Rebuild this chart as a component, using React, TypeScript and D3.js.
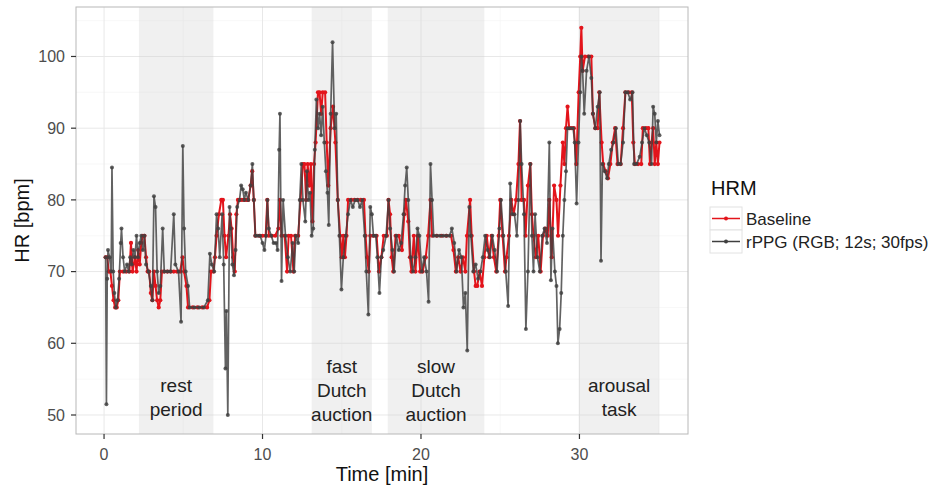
import { useEffect, useRef } from "react";
import * as d3 from "d3";

// Heart rate over time: HRM baseline (red) vs rPPG estimate (grey)
const baseline: [number, number][] = [
  [0.10, 72], [0.20, 72], [0.30, 70], [0.40, 70], [0.50, 68], [0.60, 66], [0.70, 65], [0.80, 65],
  [0.90, 66], [1.00, 70], [1.20, 70], [1.40, 70], [1.60, 70], [1.70, 74], [1.80, 70], [1.95, 72],
  [2.05, 70], [2.15, 73], [2.25, 71], [2.35, 74], [2.45, 75], [2.55, 75], [2.65, 72], [2.75, 70],
  [2.85, 70], [2.95, 67], [3.05, 66], [3.15, 70], [3.25, 68], [3.35, 66], [3.45, 65], [3.55, 66],
  [3.65, 70], [3.80, 70], [4.00, 70], [4.20, 70], [4.40, 70], [4.60, 70], [4.80, 70], [4.95, 72],
  [5.05, 70], [5.20, 68], [5.30, 65], [5.60, 65], [5.90, 65], [6.20, 65], [6.50, 65], [6.65, 66],
  [6.75, 70], [6.90, 70], [7.00, 72], [7.10, 75], [7.25, 78], [7.40, 80], [7.50, 80], [7.60, 75],
  [7.70, 72], [7.85, 75], [7.95, 78], [8.05, 76], [8.15, 72], [8.25, 70], [8.35, 78], [8.45, 80],
  [8.55, 80], [8.70, 80], [8.85, 80], [9.00, 80], [9.10, 80], [9.25, 82], [9.35, 84], [9.45, 80],
  [9.55, 75], [9.80, 75], [10.00, 75], [10.20, 75], [10.30, 80], [10.40, 75], [10.60, 75], [10.80, 75],
  [11.00, 76], [11.10, 80], [11.20, 75], [11.40, 75], [11.55, 70], [11.65, 75], [11.80, 75], [11.95, 70],
  [12.05, 75], [12.25, 75], [12.40, 80], [12.55, 85], [12.65, 85], [12.75, 80], [12.85, 85], [12.95, 82],
  [13.05, 85], [13.15, 77], [13.25, 85], [13.35, 88], [13.50, 95], [13.60, 95], [13.70, 92], [13.80, 95],
  [13.95, 95], [14.05, 88], [14.15, 82], [14.30, 90], [14.45, 93], [14.60, 88], [14.75, 80], [14.90, 75],
  [15.00, 72], [15.10, 75], [15.20, 72], [15.30, 75], [15.40, 80], [15.60, 80], [15.80, 80], [16.00, 80],
  [16.20, 80], [16.40, 80], [16.50, 75], [16.60, 72], [16.70, 70], [16.80, 75], [17.00, 75], [17.20, 75],
  [17.35, 70], [17.50, 72], [17.65, 75], [17.85, 75], [17.95, 80], [18.05, 78], [18.15, 72], [18.25, 70],
  [18.40, 75], [18.60, 75], [18.80, 73], [18.95, 78], [19.05, 80], [19.20, 77], [19.30, 72], [19.40, 70],
  [19.55, 75], [19.65, 70], [19.80, 75], [19.95, 70], [20.10, 70], [20.30, 72], [20.45, 75], [20.60, 80],
  [20.70, 75], [21.00, 75], [21.30, 75], [21.60, 75], [21.90, 75], [22.05, 73], [22.20, 70], [22.35, 72],
  [22.50, 70], [22.65, 72], [22.80, 70], [22.90, 75], [23.10, 80], [23.20, 75], [23.35, 70], [23.45, 68],
  [23.55, 68], [23.70, 70], [23.85, 68], [24.00, 72], [24.15, 75], [24.30, 72], [24.45, 75], [24.60, 72],
  [24.75, 70], [24.90, 75], [25.00, 80], [25.15, 75], [25.30, 70], [25.40, 72], [25.55, 75], [25.70, 80],
  [25.85, 78], [26.00, 80], [26.15, 85], [26.25, 91], [26.35, 80], [26.50, 80], [26.60, 75], [26.75, 82],
  [26.90, 85], [27.00, 78], [27.10, 75], [27.25, 72], [27.40, 75], [27.55, 70], [27.70, 75], [27.85, 76],
  [28.00, 75], [28.10, 80], [28.25, 72], [28.40, 82], [28.55, 80], [28.65, 75], [28.80, 82], [28.95, 88],
  [29.05, 85], [29.15, 90], [29.25, 93], [29.35, 90], [29.50, 90], [29.65, 90], [29.80, 85], [29.95, 95],
  [30.05, 100], [30.12, 104], [30.20, 98], [30.35, 100], [30.55, 100], [30.75, 100], [30.85, 92], [31.00, 90],
  [31.15, 90], [31.25, 95], [31.40, 88], [31.50, 85], [31.65, 84], [31.80, 83], [31.95, 85], [32.10, 88],
  [32.25, 90], [32.40, 85], [32.60, 85], [32.75, 90], [32.90, 95], [33.10, 95], [33.30, 95], [33.40, 88],
  [33.50, 85], [33.70, 85], [33.90, 85], [34.00, 90], [34.20, 90], [34.35, 90], [34.45, 85], [34.55, 88],
  [34.65, 90], [34.75, 85], [34.85, 88], [34.95, 85], [35.05, 88],
];

const rppg: [number, number][] = [
  [0.10, 72], [0.15, 51.5], [0.20, 69], [0.25, 73], [0.35, 72], [0.45, 70], [0.50, 84.5], [0.58, 70],
  [0.65, 67], [0.75, 65], [0.85, 66], [0.95, 69], [1.05, 74], [1.10, 76], [1.20, 72], [1.30, 70],
  [1.45, 71], [1.55, 70], [1.65, 72], [1.75, 71], [1.85, 73], [1.95, 72], [2.05, 75], [2.15, 72],
  [2.25, 74], [2.35, 75], [2.45, 73], [2.55, 75], [2.65, 71], [2.80, 70], [2.95, 68], [3.05, 66],
  [3.15, 80.5], [3.25, 79], [3.35, 70], [3.45, 67], [3.55, 68], [3.70, 76], [3.80, 70], [4.00, 70],
  [4.20, 70], [4.40, 78], [4.50, 71], [4.70, 70], [4.86, 63], [4.97, 87.5], [5.05, 76], [5.15, 70],
  [5.30, 68], [5.40, 65], [5.70, 65], [6.00, 65], [6.30, 65], [6.55, 66], [6.68, 72.5], [6.80, 71],
  [6.95, 70], [7.10, 78], [7.20, 76], [7.30, 72], [7.45, 78], [7.55, 71], [7.66, 56.5], [7.72, 64.5],
  [7.81, 50], [7.92, 79], [8.00, 76], [8.10, 71], [8.20, 69.5], [8.30, 73], [8.40, 79], [8.55, 80],
  [8.65, 82], [8.75, 81.5], [8.85, 80], [8.95, 81], [9.10, 80], [9.25, 82], [9.36, 85], [9.45, 80],
  [9.55, 75], [9.70, 75], [9.85, 75], [10.00, 74], [10.12, 73], [10.22, 75], [10.31, 80], [10.40, 76],
  [10.55, 75], [10.70, 74], [10.85, 74], [10.95, 73], [11.05, 87], [11.10, 92], [11.20, 68.7], [11.30, 80],
  [11.45, 75], [11.60, 72], [11.75, 70], [11.90, 74], [12.00, 70], [12.10, 75], [12.25, 74], [12.35, 80],
  [12.45, 85], [12.55, 80], [12.70, 77], [12.80, 84], [12.90, 80], [13.00, 81], [13.10, 75], [13.20, 76],
  [13.30, 87], [13.40, 94], [13.50, 90], [13.60, 92], [13.70, 89], [13.80, 93], [13.90, 88], [14.00, 84],
  [14.10, 81], [14.18, 76.5], [14.30, 92], [14.42, 102], [14.55, 90], [14.65, 92], [14.75, 80], [14.85, 75],
  [14.98, 67.5], [15.10, 72], [15.25, 75], [15.40, 78], [15.55, 80], [15.70, 79], [15.85, 80], [16.00, 80],
  [16.15, 79], [16.30, 80], [16.45, 75], [16.55, 70], [16.68, 64], [16.80, 79], [16.90, 78], [17.00, 75],
  [17.15, 75], [17.25, 72], [17.38, 67], [17.50, 72], [17.62, 73], [17.80, 75], [17.95, 80], [18.05, 76],
  [18.20, 73], [18.30, 70], [18.45, 75], [18.60, 73], [18.75, 74], [18.90, 78], [19.00, 82], [19.10, 84.5],
  [19.20, 80], [19.35, 72], [19.50, 70], [19.65, 72], [19.78, 76], [19.90, 75], [20.05, 70], [20.20, 72],
  [20.35, 70], [20.48, 65.8], [20.60, 85], [20.70, 80], [20.80, 75], [21.00, 75], [21.20, 75], [21.40, 75],
  [21.60, 75], [21.80, 75], [21.95, 76], [22.10, 74], [22.25, 70], [22.40, 73], [22.55, 72], [22.68, 65],
  [22.80, 67], [22.92, 59], [23.05, 79], [23.15, 75], [23.30, 70], [23.45, 71], [23.60, 69], [23.75, 70],
  [23.90, 72], [24.05, 75], [24.20, 73], [24.35, 72], [24.50, 75], [24.65, 73], [24.80, 70], [24.95, 76],
  [25.05, 80], [25.20, 75], [25.35, 70], [25.50, 65.2], [25.63, 82.3], [25.75, 78], [25.90, 78], [26.05, 75],
  [26.15, 80], [26.26, 91], [26.35, 85], [26.50, 78], [26.62, 62], [26.75, 70], [26.90, 85], [27.00, 75],
  [27.10, 70], [27.20, 78], [27.35, 72], [27.50, 70], [27.65, 75], [27.80, 76], [27.95, 74], [28.10, 88],
  [28.20, 68.8], [28.30, 76], [28.45, 70], [28.55, 68], [28.64, 60], [28.75, 62], [28.85, 67], [28.95, 75],
  [29.05, 80], [29.15, 84], [29.25, 90], [29.40, 90], [29.60, 90], [29.70, 88], [29.82, 79.5], [29.94, 88],
  [30.05, 95], [30.12, 100], [30.20, 98], [30.30, 92], [30.45, 98], [30.60, 100], [30.75, 97], [30.85, 92],
  [31.00, 90], [31.15, 93], [31.28, 95], [31.36, 71.5], [31.45, 85], [31.60, 84], [31.75, 83], [31.85, 85],
  [32.00, 87], [32.15, 88], [32.30, 90], [32.45, 85], [32.60, 85], [32.75, 88], [32.90, 95], [33.05, 95],
  [33.20, 94], [33.35, 95], [33.45, 85], [33.60, 85], [33.80, 86], [33.95, 88], [34.10, 90], [34.25, 89],
  [34.40, 88], [34.55, 85], [34.65, 93], [34.75, 92], [34.85, 88], [34.95, 91], [35.05, 89],
];

// shaded experiment phases
const phaseStart = [2.2, 13.1, 17.9, 29.95];
const phaseEnd = [6.9, 16.9, 24.0, 35.05];
const phaseLabels = [["rest", "period"], ["fast", "Dutch", "auction"], ["slow", "Dutch", "auction"], ["arousal", "task"]];

const xTicks = [0, 10, 20, 30];
const yTicks = [50, 60, 70, 80, 90, 100];
const seriesNames = ["Baseline", "rPPG (RGB; 12s; 30fps)"];

const FONT = '"Liberation Sans", Arial, Helvetica, sans-serif';

export default function App() {
  const ref = useRef<SVGSVGElement>(null);
  const W = 939, H = 488;
  const panel = { left: 76, right: 688, top: 7, bottom: 434 };

  useEffect(() => {
    document.body.style.margin = "0";
    if (!ref.current) return;
    const svg = d3.select(ref.current);
    svg.selectAll("*").remove();

    const x = d3.scaleLinear().domain([-1.77, 36.85]).range([panel.left, panel.right]);
    const y = d3.scaleLinear().domain([47.35, 106.9]).range([panel.bottom, panel.top]);

    svg.append("rect").attr("width", W).attr("height", H).attr("fill", "#fff");

    // grid
    const grid = svg.append("g");
    const minorX = d3.range(-5, 40, 5).filter(v => !xTicks.includes(v) && x(v) > panel.left && x(v) < panel.right);
    const minorY = d3.range(45, 110, 5).filter(v => !yTicks.includes(v) && y(v) > panel.top && y(v) < panel.bottom);
    grid.selectAll(".mx").data(minorX).enter().append("line")
      .attr("x1", d => x(d)).attr("x2", d => x(d)).attr("y1", panel.top).attr("y2", panel.bottom)
      .attr("stroke", "#f3f3f3").attr("stroke-width", 0.6);
    grid.selectAll(".my").data(minorY).enter().append("line")
      .attr("x1", panel.left).attr("x2", panel.right).attr("y1", d => y(d)).attr("y2", d => y(d))
      .attr("stroke", "#f3f3f3").attr("stroke-width", 0.6);
    grid.selectAll(".gx").data(xTicks).enter().append("line")
      .attr("x1", d => x(d)).attr("x2", d => x(d)).attr("y1", panel.top).attr("y2", panel.bottom)
      .attr("stroke", "#e8e8e8").attr("stroke-width", 1);
    grid.selectAll(".gy").data(yTicks).enter().append("line")
      .attr("x1", panel.left).attr("x2", panel.right).attr("y1", d => y(d)).attr("y2", d => y(d))
      .attr("stroke", "#e8e8e8").attr("stroke-width", 1);

    // phase shading
    svg.append("g").selectAll("rect").data(phaseStart).enter().append("rect")
      .attr("x", d => x(d)).attr("width", (d, i) => x(phaseEnd[i]) - x(d))
      .attr("y", panel.top).attr("height", panel.bottom - panel.top)
      .attr("fill", "#d0d0d0").attr("opacity", 0.32);

    // phase labels
    const lab = svg.append("g").attr("font-family", FONT).attr("font-size", 19).attr("fill", "#222").attr("text-anchor", "middle");
    phaseLabels.forEach((lines, i) => {
      const cx = x((phaseStart[i] + phaseEnd[i]) / 2);
      const last = lines.length === 3 ? 421 : 415.5;
      lines.forEach((t, j) => {
        lab.append("text").attr("x", cx).attr("y", last - (lines.length - 1 - j) * 23.8).text(t);
      });
    });

    const line = d3.line<[number, number]>().x(d => x(d[0])).y(d => y(d[1]));

    // baseline (red)
    const red = "#e3141b";
    svg.append("path").datum(baseline).attr("d", line).attr("fill", "none")
      .attr("stroke", red).attr("stroke-width", 2).attr("stroke-linejoin", "round");
    svg.append("g").selectAll("circle").data(baseline).enter().append("circle")
      .attr("cx", d => x(d[0])).attr("cy", d => y(d[1])).attr("r", 2.1).attr("fill", red);

    // rPPG (grey)
    const grey = "#3f3f3f";
    svg.append("path").datum(rppg).attr("d", line).attr("fill", "none")
      .attr("stroke", grey).attr("stroke-width", 1.7).attr("stroke-opacity", 0.82).attr("stroke-linejoin", "round");
    svg.append("g").selectAll("circle").data(rppg).enter().append("circle")
      .attr("cx", d => x(d[0])).attr("cy", d => y(d[1])).attr("r", 2).attr("fill", grey).attr("fill-opacity", 0.82);

    // panel border
    svg.append("rect").attr("x", panel.left).attr("y", panel.top)
      .attr("width", panel.right - panel.left).attr("height", panel.bottom - panel.top)
      .attr("fill", "none").attr("stroke", "#b8b8b8").attr("stroke-width", 1);

    // axes
    const ax = svg.append("g").attr("font-family", FONT);
    xTicks.forEach(t => {
      ax.append("line").attr("x1", x(t)).attr("x2", x(t)).attr("y1", panel.bottom).attr("y2", panel.bottom + 5)
        .attr("stroke", "#333").attr("stroke-width", 1.2);
      ax.append("text").attr("x", x(t)).attr("y", 460).attr("text-anchor", "middle")
        .attr("font-size", 16).attr("fill", "#4d4d4d").text(t);
    });
    yTicks.forEach(t => {
      ax.append("line").attr("x1", panel.left - 5).attr("x2", panel.left).attr("y1", y(t)).attr("y2", y(t))
        .attr("stroke", "#333").attr("stroke-width", 1.2);
      ax.append("text").attr("x", 65).attr("y", y(t)).attr("dy", "0.36em").attr("text-anchor", "end")
        .attr("font-size", 16).attr("fill", "#4d4d4d").text(t);
    });
    ax.append("text").attr("x", (panel.left + panel.right) / 2).attr("y", 481).attr("text-anchor", "middle")
      .attr("font-size", 20).attr("fill", "#111").text("Time [min]");
    ax.append("text").attr("transform", `translate(29,${(panel.top + panel.bottom) / 2}) rotate(-90)`)
      .attr("text-anchor", "middle").attr("font-size", 20).attr("fill", "#111").text("HR [bpm]");

    // legend
    const lg = svg.append("g").attr("font-family", FONT);
    lg.append("text").attr("x", 711).attr("y", 195).attr("font-size", 20).attr("fill", "#111").text("HRM");
    const keyColors = [red, grey];
    seriesNames.forEach((name, i) => {
      const ky = 207 + i * 23;
      lg.append("rect").attr("x", 710).attr("y", ky).attr("width", 32).attr("height", 23)
        .attr("fill", "#fff").attr("stroke", "#e2e2e2").attr("stroke-width", 1);
      lg.append("line").attr("x1", 712).attr("x2", 740).attr("y1", ky + 11.5).attr("y2", ky + 11.5)
        .attr("stroke", keyColors[i]).attr("stroke-width", 1.5);
      lg.append("circle").attr("cx", 726).attr("cy", ky + 11.5).attr("r", 2).attr("fill", keyColors[i]);
      lg.append("text").attr("x", 746).attr("y", ky + 11.5).attr("dy", "0.36em")
        .attr("font-size", 17).attr("fill", "#222").text(name);
    });
  }, []);

  return <svg ref={ref} width={W} height={H} style={{ display: "block" }} />;
}
